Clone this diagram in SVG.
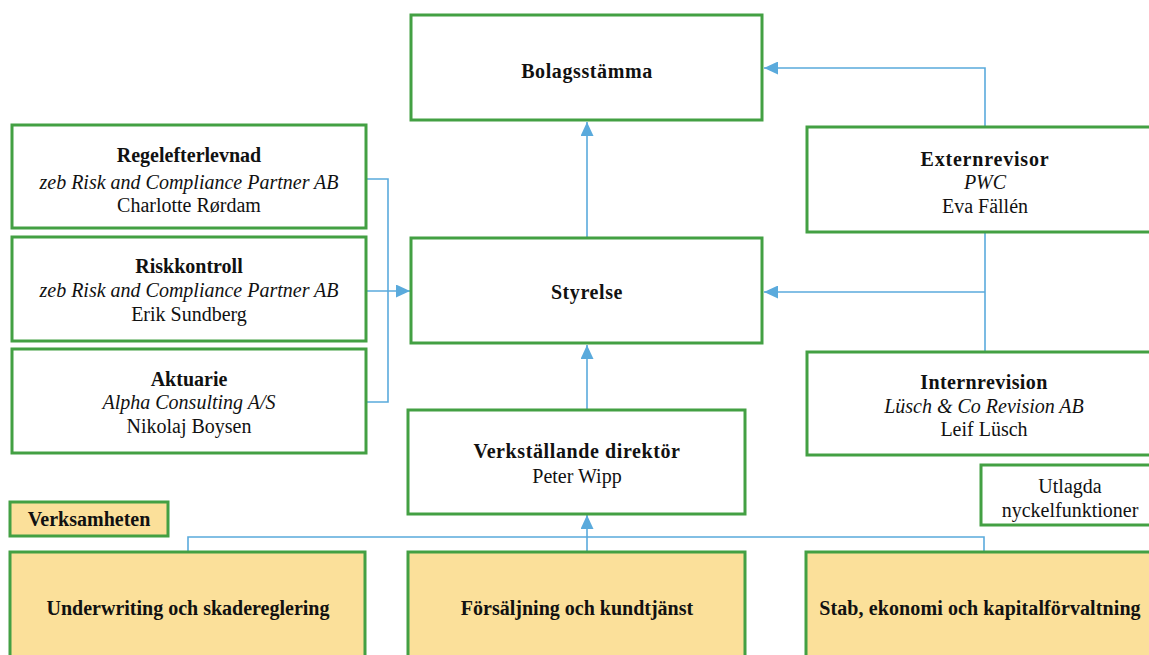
<svg xmlns="http://www.w3.org/2000/svg" width="1149" height="655" viewBox="0 0 1149 655">
<defs>
<style>
.box{fill:#ffffff;stroke:#43a043;stroke-width:3}
.ybox{fill:#fbe09a;stroke:#43a043;stroke-width:3}
text{font-family:"Liberation Serif","Times New Roman",serif;font-size:20px;fill:#111;text-anchor:middle}
.b{font-weight:bold}
.i{font-style:italic}
.c{fill:none;stroke:#5aaadc;stroke-width:1.6}
</style>
<marker id="ah" viewBox="0 0 14 13" refX="14" refY="6.5" markerWidth="14" markerHeight="13" markerUnits="userSpaceOnUse" orient="auto">
<path d="M0,0 L14,6.5 L0,13 z" fill="#5aaadc"/>
</marker>
</defs>
<rect width="1149" height="655" fill="#ffffff"/>
<g id="connectors">
<path class="c" d="M587,238 L587,122" marker-end="url(#ah)"/>
<path class="c" d="M587,410 L587,345" marker-end="url(#ah)"/>
<path class="c" d="M366,179 L388,179 L388,402 L366,402"/>
<path class="c" d="M366,291 L410,291" marker-end="url(#ah)"/>
<path class="c" d="M985,127 L985,68 L764,68" marker-end="url(#ah)"/>
<path class="c" d="M985,232 L985,352"/>
<path class="c" d="M985,292 L764,292" marker-end="url(#ah)"/>
<path class="c" d="M188,552 L188,537 L984,537 L984,552"/>
<path class="c" d="M587,552 L587,515" marker-end="url(#ah)"/>
</g>
<g id="bolagsstamma">
<rect class="box" x="411" y="15" width="351" height="105"/>
<text class="b" x="587" y="78" font-size="19" letter-spacing="0.6">Bolagsstämma</text>
</g>
<g id="regelefterlevnad">
<rect class="box" x="12" y="125" width="354" height="103"/>
<text class="b" x="189" y="162" font-size="21">Regelefterlevnad</text>
<text class="i" x="189" y="189">zeb Risk and Compliance Partner AB</text>
<text x="189" y="212">Charlotte Rørdam</text>
</g>
<g id="riskkontroll">
<rect class="box" x="12" y="237" width="354" height="104"/>
<text class="b" x="189" y="273" font-size="21">Riskkontroll</text>
<text class="i" x="189" y="297">zeb Risk and Compliance Partner AB</text>
<text x="189" y="321">Erik Sundberg</text>
</g>
<g id="aktuarie">
<rect class="box" x="12" y="349" width="354" height="104"/>
<text class="b" x="189" y="386" font-size="21">Aktuarie</text>
<text class="i" x="189" y="409">Alpha Consulting A/S</text>
<text x="189" y="433">Nikolaj Boysen</text>
</g>
<g id="styrelse">
<rect class="box" x="411" y="238" width="351" height="105"/>
<text class="b" x="587" y="299" letter-spacing="0.6">Styrelse</text>
</g>
<g id="externrevisor">
<rect class="box" x="807" y="127" width="350" height="105"/>
<text class="b" x="985" y="166" letter-spacing="0.8">Externrevisor</text>
<text class="i" x="985" y="189">PWC</text>
<text x="985" y="213">Eva Fällén</text>
</g>
<g id="internrevision">
<rect class="box" x="807" y="352" width="350" height="103"/>
<text class="b" x="984" y="389" letter-spacing="0.4">Internrevision</text>
<text class="i" x="984" y="413">Lüsch &amp; Co Revision AB</text>
<text x="984" y="436">Leif Lüsch</text>
</g>
<g id="vd">
<rect class="box" x="408" y="410" width="337" height="104"/>
<text class="b" x="577" y="458" font-size="19" letter-spacing="0.6">Verkställande direktör</text>
<text x="577" y="483">Peter Wipp</text>
</g>
<g id="utlagda">
<rect class="box" x="981" y="465" width="178" height="60"/>
<text x="1070" y="493">Utlagda</text>
<text x="1070" y="517">nyckelfunktioner</text>
</g>
<g id="verksamheten">
<rect class="ybox" x="10" y="502" width="158" height="34"/>
<text class="b" x="89" y="526" font-size="19">Verksamheten</text>
</g>
<g id="underwriting">
<rect class="ybox" x="10" y="552" width="355" height="110"/>
<text class="b" x="188" y="615" font-size="20">Underwriting och skadereglering</text>
</g>
<g id="forsaljning">
<rect class="ybox" x="408" y="552" width="337" height="110"/>
<text class="b" x="577" y="615" font-size="18.5">Försäljning och kundtjänst</text>
</g>
<g id="stab">
<rect class="ybox" x="806" y="552" width="351" height="110"/>
<text class="b" x="980" y="615" font-size="19" letter-spacing="0.1">Stab, ekonomi och kapitalförvaltning</text>
</g>
</svg>
